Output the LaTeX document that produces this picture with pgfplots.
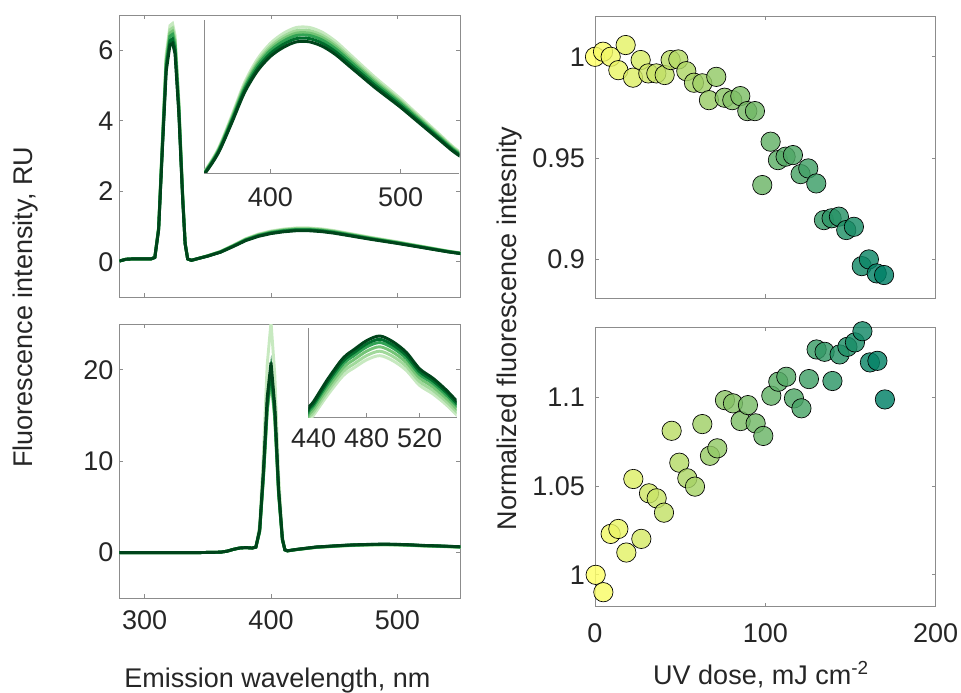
\documentclass[border=0pt]{standalone}
\usepackage{fontspec}
\setmainfont{Liberation Sans}
\usepackage{pgfplots}
\usepackage{pgfplotstable}
\pgfplotsset{compat=1.18}
\definecolor{axgray}{HTML}{8C8C8C}
\definecolor{txt}{HTML}{262626}
\definecolor{gA}{HTML}{C7E9C0}
\definecolor{gB}{HTML}{A1D99B}
\definecolor{gC}{HTML}{74C476}
\definecolor{gD}{HTML}{31A354}
\definecolor{gE}{HTML}{006D2C}
\definecolor{gF}{HTML}{00441B}
\newcommand\tf{\fontsize{20.25}{24}\selectfont}

% excitation 320 nm spectra, light = low dose, dark = high dose
\pgfplotstableread{
x a b c d e f
280 0.02 0.02 0.02 0.02 0.02 0.02
285 0.07 0.07 0.07 0.07 0.07 0.07
290 0.08 0.08 0.08 0.08 0.08 0.08
300 0.08 0.08 0.08 0.08 0.08 0.08
305 0.08 0.08 0.08 0.08 0.08 0.08
308 0.13 0.13 0.13 0.12 0.12 0.12
311 0.98 0.96 0.95 0.94 0.92 0.90
314 3.49 3.42 3.38 3.33 3.26 3.20
317 5.89 5.78 5.70 5.62 5.51 5.40
320 6.70 6.58 6.49 6.40 6.27 6.15
322 6.76 6.63 6.54 6.45 6.32 6.20
324 6.43 6.31 6.22 6.14 6.02 5.90
327 4.58 4.49 4.43 4.37 4.28 4.20
330 1.96 1.93 1.90 1.87 1.84 1.80
332 0.55 0.54 0.53 0.52 0.51 0.50
334 0.08 0.08 0.08 0.08 0.08 0.08
337 0.04 0.04 0.04 0.04 0.04 0.04
340 0.07 0.07 0.07 0.07 0.07 0.07
350 0.174 0.171 0.169 0.166 0.163 0.160
360 0.294 0.289 0.285 0.281 0.275 0.270
370 0.469 0.460 0.454 0.447 0.439 0.430
380 0.654 0.642 0.633 0.624 0.612 0.600
390 0.785 0.770 0.760 0.749 0.734 0.720
400 0.872 0.856 0.844 0.832 0.816 0.800
410 0.927 0.910 0.897 0.884 0.867 0.850
420 0.959 0.942 0.928 0.915 0.898 0.880
430 0.959 0.942 0.928 0.915 0.898 0.880
440 0.932 0.915 0.902 0.889 0.872 0.855
450 0.883 0.867 0.855 0.842 0.826 0.810
460 0.818 0.803 0.791 0.780 0.765 0.750
470 0.752 0.738 0.728 0.718 0.704 0.690
480 0.687 0.674 0.665 0.655 0.643 0.630
490 0.627 0.615 0.607 0.598 0.587 0.575
500 0.567 0.556 0.549 0.541 0.530 0.520
510 0.501 0.492 0.485 0.478 0.469 0.460
520 0.436 0.428 0.422 0.416 0.408 0.400
530 0.371 0.364 0.359 0.354 0.347 0.340
540 0.305 0.300 0.295 0.291 0.286 0.280
550 0.251 0.246 0.243 0.239 0.235 0.230
}\tabTop

% excitation 400 nm spectra
\pgfplotstableread{
x a b c d e f
280 0 0 0 0 0 0
300 0 0 0 0 0 0
320 0 0 0 0 0 0
340 0 0 0 0 0 0
350 0.02 0.02 0.02 0.02 0.02 0.02
360 0.05 0.05 0.05 0.05 0.05 0.05
365 0.15 0.15 0.15 0.15 0.15 0.15
370 0.35 0.35 0.35 0.35 0.35 0.35
375 0.50 0.50 0.50 0.50 0.50 0.50
380 0.55 0.55 0.55 0.55 0.55 0.55
385 0.50 0.50 0.50 0.50 0.50 0.50
388 0.60 0.60 0.60 0.60 0.60 0.60
391 3.03 2.31 2.28 2.34 2.40 2.50
394 10.9 8.31 8.22 8.44 8.65 9.00
397 20.6 15.7 15.5 15.9 16.3 17.0
400 25.2 19.2 19.0 19.5 20.0 20.8
403 19.4 14.8 14.6 15.0 15.4 16.0
406 8.48 6.46 6.39 6.56 6.73 7.00
409 1.82 1.38 1.37 1.41 1.44 1.50
411 0.30 0.30 0.30 0.30 0.30 0.30
413 0.18 0.19 0.19 0.19 0.20 0.20
420 0.32 0.33 0.33 0.34 0.34 0.35
430 0.47 0.48 0.49 0.50 0.51 0.52
436 0.564 0.577 0.589 0.601 0.611 0.620
440 0.592 0.605 0.618 0.631 0.640 0.650
450 0.673 0.688 0.703 0.718 0.729 0.740
460 0.746 0.763 0.779 0.795 0.808 0.820
465 0.774 0.791 0.808 0.825 0.837 0.850
470 0.792 0.809 0.827 0.844 0.857 0.870
480 0.828 0.846 0.865 0.883 0.896 0.910
490 0.846 0.865 0.884 0.902 0.916 0.930
500 0.824 0.842 0.860 0.878 0.891 0.905
510 0.783 0.800 0.817 0.834 0.847 0.860
520 0.719 0.735 0.751 0.766 0.778 0.790
530 0.683 0.698 0.713 0.728 0.739 0.750
540 0.637 0.651 0.665 0.679 0.690 0.700
550 0.582 0.595 0.608 0.621 0.630 0.640
}\tabBot

\pgfplotstableread{
x y
0 1.000
4.7 1.0025
9.2 1.000
13.7 0.9934
18.0 1.0058
22.3 0.9897
26.8 0.9984
31.3 0.9918
36.0 0.9918
40.9 0.9910
44.4 0.9984
48.9 0.9987
53.6 0.9929
58.1 0.9872
63.0 0.9869
66.9 0.9786
71.2 0.9901
76.1 0.9798
80.6 0.9786
85.3 0.9806
89.4 0.9732
93.9 0.9732
98.2 0.9367
103.1 0.9581
107.4 0.9490
111.9 0.9507
116.2 0.9515
120.7 0.9421
125.2 0.9449
129.9 0.9375
134.4 0.9194
138.9 0.9203
143.2 0.9211
147.5 0.9145
152.0 0.9161
156.6 0.8967
160.8 0.9000
165.4 0.8931
169.7 0.8923
}\tabDown

\pgfplotstableread{
x y
0.4 1.0000
4.9 0.9902
9.2 1.0231
13.7 1.0259
18.4 1.0126
22.5 1.0541
27.2 1.0203
31.7 1.0460
36.2 1.0432
40.5 1.0351
45.0 1.0813
49.5 1.0633
54.2 1.0545
58.7 1.0498
63.0 1.0851
67.5 1.0672
71.8 1.0714
76.3 1.0986
81.0 1.0968
85.5 1.0868
89.8 1.0958
94.3 1.0855
98.8 1.0784
103.5 1.1011
107.6 1.1090
112.3 1.1118
116.8 1.0996
121.2 1.0940
125.6 1.1105
130.1 1.1272
134.8 1.1259
139.4 1.1094
143.6 1.1244
148.2 1.1287
152.6 1.1312
157.0 1.1375
161.4 1.1199
165.8 1.1208
170.2 1.0990
}\tabUp

\pgfplotsset{
  panel/.style={
    scale only axis,
    axis line style={draw=axgray, line width=0.6pt},
    tick style={draw=axgray, line width=0.6pt},
    major tick length=3pt,
    tick align=inside,
    tick label style={font=\tf, text=txt},
    yticklabel style={xshift=-1pt},
  },
  inset/.style={
    panel,
    axis x line*=bottom,
    axis y line*=left,
    axis line style={draw=axgray, line width=0.6pt, -},
    ytick=\empty,
  },
  spec/.style={line width=2.2pt, no marks},
  dots/.style={
    colormap={summerrev}{rgb=(1,1,0.4) rgb=(0,0.5,0.4)},
    point meta min=0, point meta max=170,
    clip=false, axis on top,
    xmin=0, xmax=200, xtick={0,100,200},
    yticklabel style={xshift=-3pt},
  },
  dotplot/.style={
    scatter, only marks, mark=*, mark size=7.25pt, point meta=x,
    scatter/use mapped color={draw=black, fill=mapped color, fill opacity=0.82, line width=0.5pt},
  },
}

\begin{document}
\begin{tikzpicture}
\path[use as bounding box] (0,0) rectangle (720.75pt,519.75pt);

% top left
\begin{axis}[panel, at={(89.6pt,297pt)}, anchor=south west,
  width=255.75pt, height=211.5pt,
  xmin=280, xmax=550, ymin=-1, ymax=7,
  xtick={300,400,500}, xticklabels={},
  ytick={0,2,4,6}, yticklabels={0,2,4,6}]
  \addplot[spec, gA] table[x=x, y=a] {\tabTop};
  \addplot[spec, gB] table[x=x, y=b] {\tabTop};
  \addplot[spec, gC] table[x=x, y=c] {\tabTop};
  \addplot[spec, gD] table[x=x, y=d] {\tabTop};
  \addplot[spec, gE] table[x=x, y=e] {\tabTop};
  \addplot[spec, gF] table[x=x, y=f] {\tabTop};
\end{axis}
\begin{axis}[inset, at={(153pt,390pt)}, anchor=south west,
  width=191.5pt, height=114.75pt,
  xmin=349, xmax=545, ymin=0.16, ymax=1.0,
  xtick={400,500}, xticklabels={400,500},
  xticklabel style={yshift=-7.3pt}]
  \addplot[spec, smooth, gA] table[x=x, y=a] {\tabTop};
  \addplot[spec, smooth, gB] table[x=x, y=b] {\tabTop};
  \addplot[spec, smooth, gC] table[x=x, y=c] {\tabTop};
  \addplot[spec, smooth, gD] table[x=x, y=d] {\tabTop};
  \addplot[spec, smooth, gE] table[x=x, y=e] {\tabTop};
  \addplot[spec, smooth, gF] table[x=x, y=f] {\tabTop};
\end{axis}

% bottom left
\begin{axis}[panel, at={(89.6pt,71pt)}, anchor=south west,
  width=255.75pt, height=205.7pt,
  xmin=280, xmax=550, ymin=-5, ymax=25,
  xtick={300,400,500}, xticklabels={300,400,500},
  xticklabel style={yshift=-5.8pt},
  ytick={0,10,20}, yticklabels={0,10,20}]
  \addplot[spec, gA] table[x=x, y=a] {\tabBot};
  \addplot[spec, gB] table[x=x, y=b] {\tabBot};
  \addplot[spec, gC] table[x=x, y=c] {\tabBot};
  \addplot[spec, gD] table[x=x, y=d] {\tabBot};
  \addplot[spec, gE] table[x=x, y=e] {\tabBot};
  \addplot[spec, gF] table[x=x, y=f] {\tabBot};
\end{axis}
\begin{axis}[inset, at={(231.2pt,206.8pt)}, anchor=south west,
  width=111.3pt, height=66.75pt,
  xmin=436, xmax=548, ymin=0.583, ymax=0.963,
  xtick={440,480,520}, xticklabels={440,480,520},
  xticklabel style={yshift=-5.3pt}]
  \addplot[spec, smooth, gA] table[x=x, y=a] {\tabBot};
  \addplot[spec, smooth, gB] table[x=x, y=b] {\tabBot};
  \addplot[spec, smooth, gC] table[x=x, y=c] {\tabBot};
  \addplot[spec, smooth, gD] table[x=x, y=d] {\tabBot};
  \addplot[spec, smooth, gE] table[x=x, y=e] {\tabBot};
  \addplot[spec, smooth, gF] table[x=x, y=f] {\tabBot};
\end{axis}

% top right
\begin{axis}[panel, dots, at={(446.25pt,296pt)}, anchor=south west,
  width=255.5pt, height=211.7pt,
  ymin=0.8808, ymax=1.0201, xticklabels={},
  ytick={0.9,0.95,1}, yticklabels={0.9,0.95,1}]
  \addplot[dotplot] table {\tabDown};
\end{axis}

% bottom right
\begin{axis}[panel, dots, at={(446.25pt,64.7pt)}, anchor=south west,
  width=255.5pt, height=209.55pt,
  ymin=0.982, ymax=1.1397, xticklabels={0,100,200},
  xticklabel style={yshift=-9.5pt},
  ytick={1,1.05,1.1}, yticklabels={1,1.05,1.1}]
  \addplot[dotplot] table {\tabUp};
\end{axis}

\node[rotate=90, font=\tf, text=txt] at (19.5pt,289.3pt) {Fluorescence intensity, RU};
\node[rotate=90, font=\tf, text=txt] at (382.5pt,273.5pt) {Normalized fluorescence intesnity};
\node[anchor=base, font=\tf, text=txt] at (208.1pt,4.1pt) {Emission wavelength, nm};
\node[anchor=base, font=\tf, text=txt] at (570.75pt,6pt) {UV dose, mJ cm\textsuperscript{-2}};
\end{tikzpicture}
\end{document}
